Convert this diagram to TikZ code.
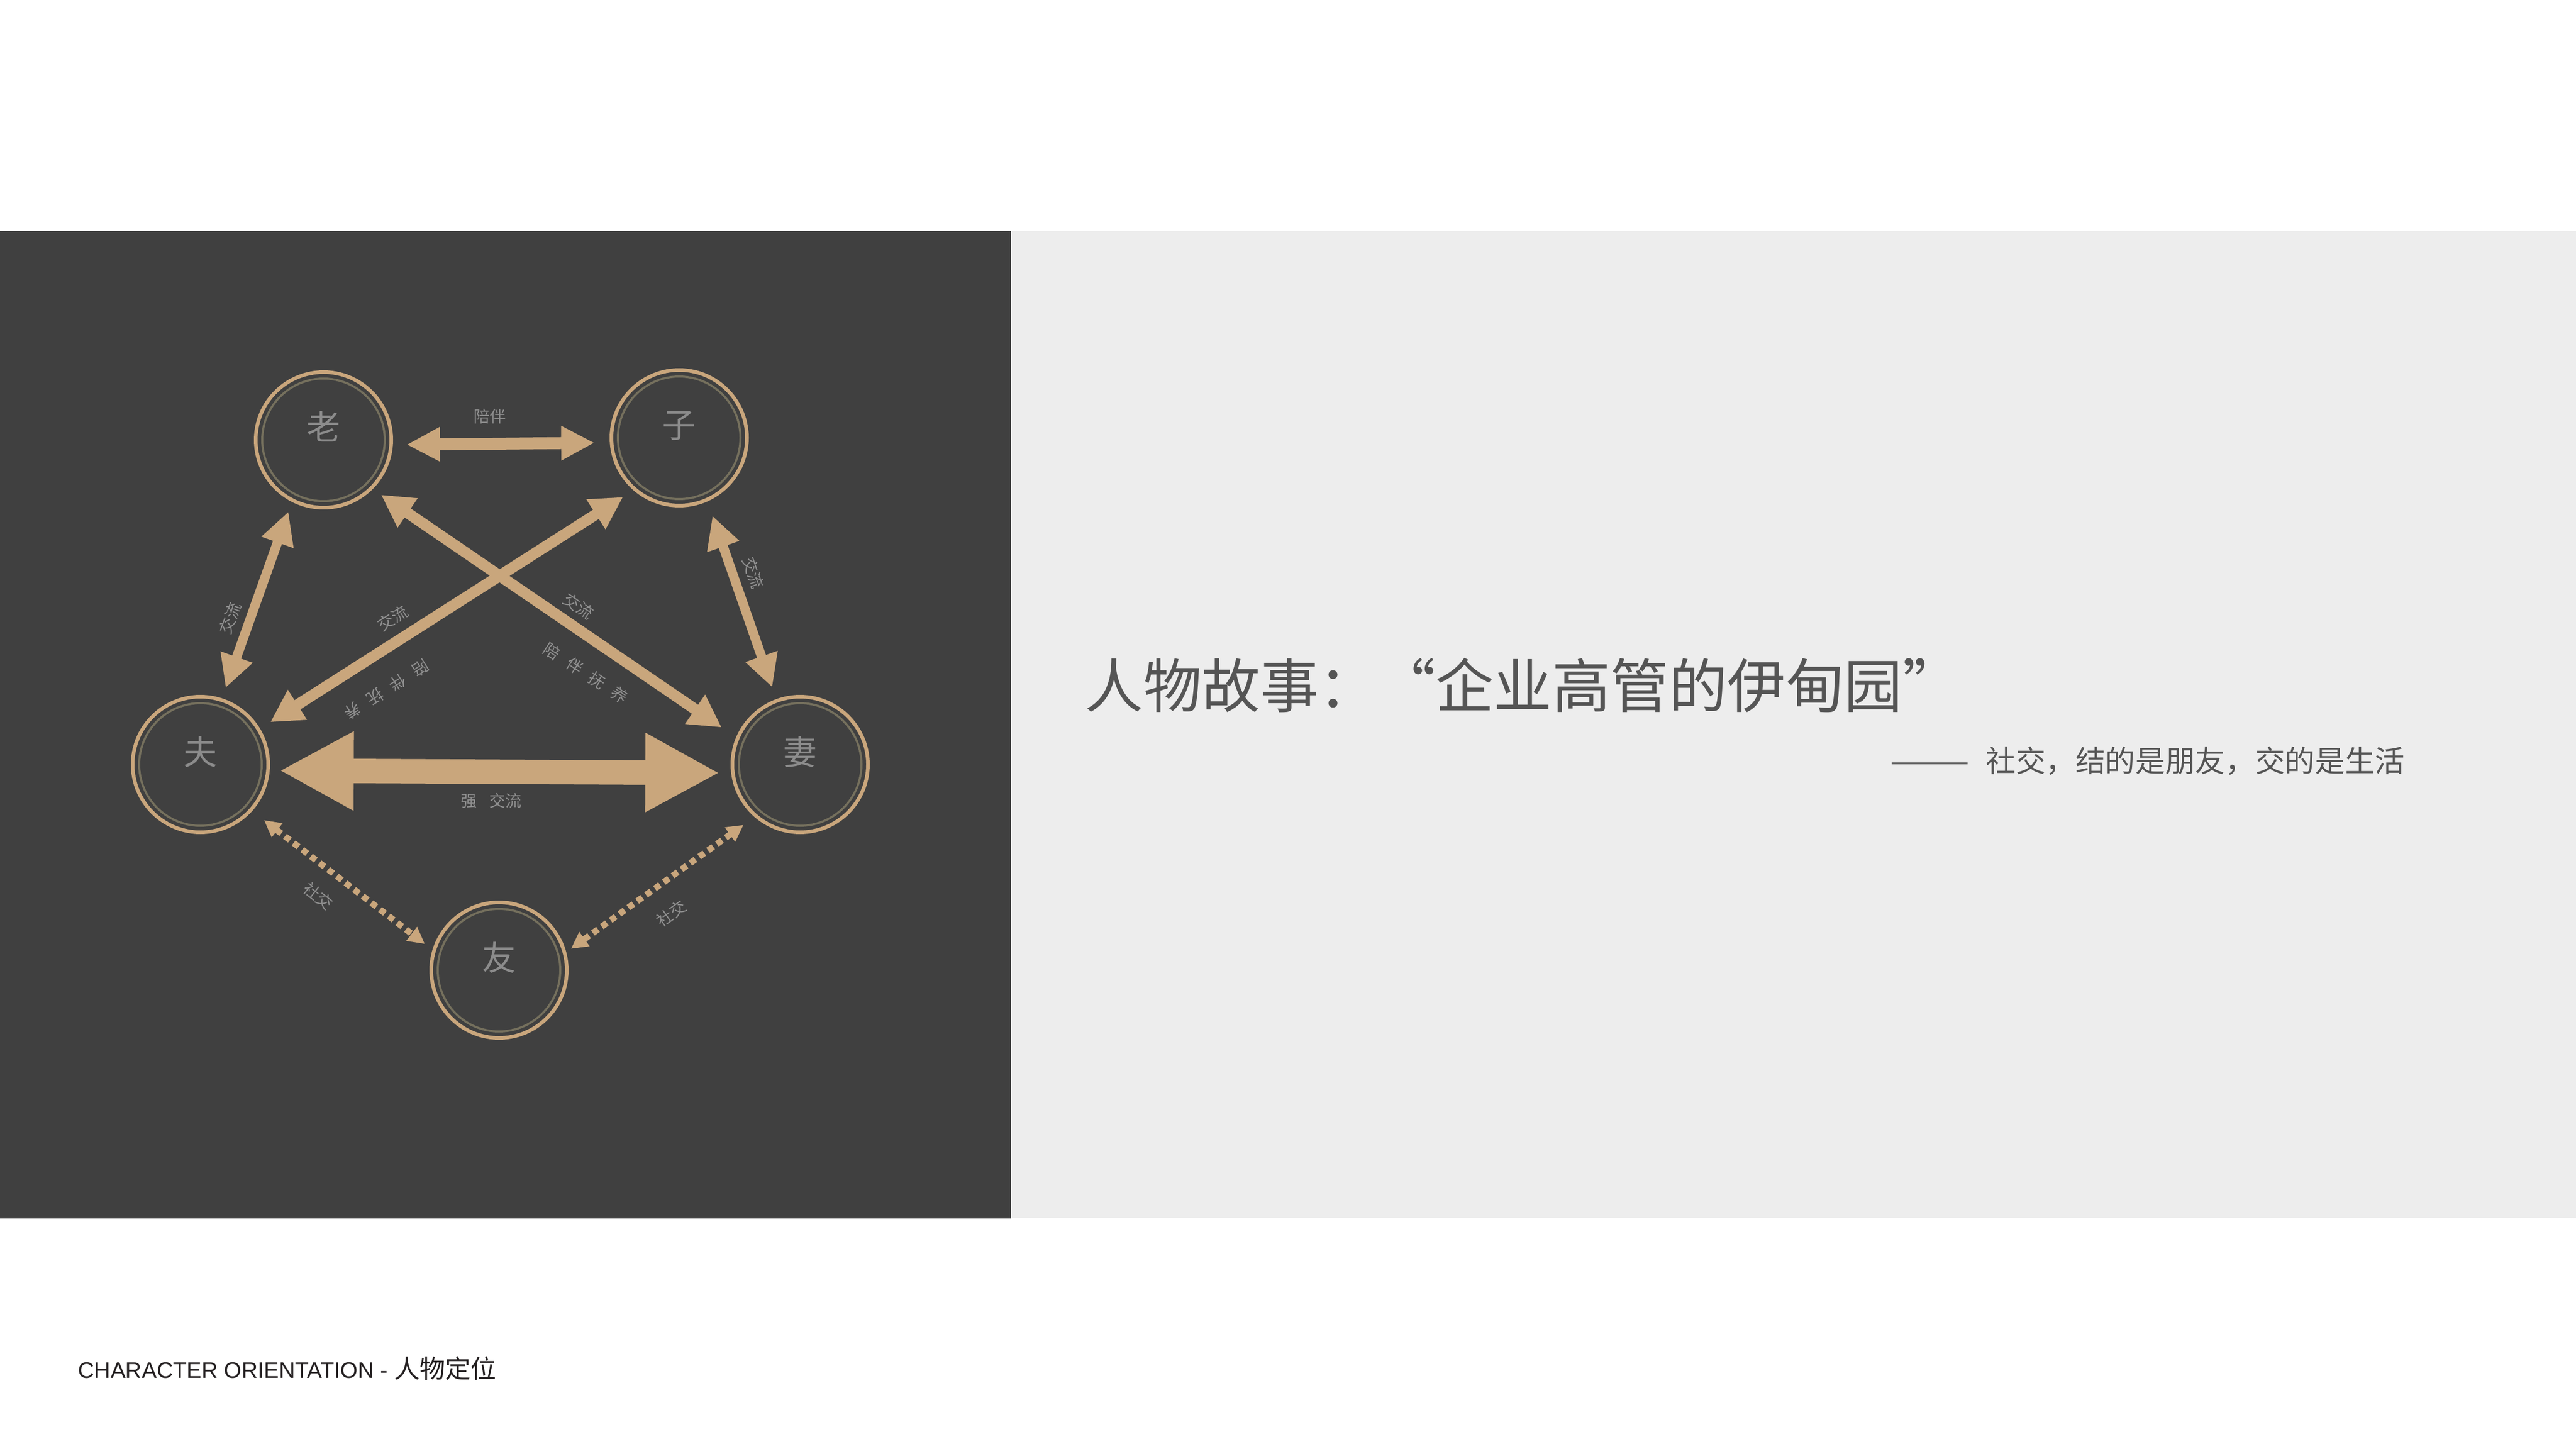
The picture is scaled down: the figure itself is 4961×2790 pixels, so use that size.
\documentclass[tikz,border=0pt]{standalone}
\usepackage{fontspec}
\setmainfont{Liberation Sans}
\newfontfamily\cjk{Noto Sans CJK SC}
\usetikzlibrary{arrows.meta}
\definecolor{panel}{HTML}{404040}
\definecolor{lightpanel}{HTML}{EDEDED}
\definecolor{tanc}{HTML}{C9A67C}
\definecolor{ringc}{HTML}{75705D}
\definecolor{glyphc}{HTML}{8C8C8C}
\definecolor{labc}{HTML}{8E8E8E}
\definecolor{titlec}{HTML}{555555}
\definecolor{footc}{HTML}{231F20}
\begin{document}
\begin{tikzpicture}[x=0.1mm,y=-0.1mm,
  person/.style={circle, draw=tanc, line width=0.7mm, minimum size=26.1mm, inner sep=0pt,
    text=glyphc, font=\cjk\fontsize{18.5}{20}\selectfont},
  innerring/.style={draw=ringc, line width=0.4mm},
  pairarrow/.style={draw=tanc, line width=2.3mm,
    {Triangle[length=6.4mm,width=6.2mm]}-{Triangle[length=6.4mm,width=6.2mm]}},
  sidearrow/.style={draw=tanc, line width=1.8mm,
    {Triangle[length=6.3mm,width=6.1mm]}-{Triangle[length=6.3mm,width=6.1mm]}},
  crossarrow/.style={draw=tanc, line width=2.1mm,
    {Triangle[length=6.2mm,width=6.4mm]}-{Triangle[length=6.2mm,width=6.4mm]}},
  bigarrow/.style={draw=tanc, line width=4.7mm,
    {Triangle[length=14.3mm,width=14.2mm]}-{Triangle[length=14.3mm,width=14.2mm]}},
  socialarrow/.style={draw=tanc, line width=1.2mm, dash pattern=on 1.2mm off 0.9mm,
    {Triangle[length=3.2mm,width=3.2mm]}-{Triangle[length=3.2mm,width=3.2mm]}},
  lab/.style={text=labc, inner sep=0pt, font=\cjk\fontsize{8.8}{10}\selectfont},
]
\fill[white] (0,0) rectangle (4961,2790);
\useasboundingbox (0,0) rectangle (4961,2790);
\fill[panel] (0,445) rectangle (1947,2346);
\fill[lightpanel] (1949,445) rectangle (4961,2345);

% people
\node[person] (lao) at (623,847) {\smash{老}};
\node[person] (zi)  at (1308,843) {\smash{子}};
\node[person] (fu)  at (386,1472) {\smash{夫}};
\node[person] (qi)  at (1541,1472) {\smash{妻}};
\node[person] (you) at (961,1868) {\smash{友}};
\foreach \n in {lao,zi,fu,qi,you}
  \draw[innerring] (\n.center) circle[radius=11.8mm];

% relations
\draw[pairarrow, shorten <=2.65mm, shorten >=2.95mm] (lao.-4.6) -- (zi.184.6);
\draw[sidearrow, shorten <=1.98mm, shorten >=2.13mm] (lao.-117.1) -- (fu.72.4);
\draw[sidearrow, shorten <=2.91mm, shorten >=2.39mm] (zi.-66.9) -- (qi.110.4);
\draw[crossarrow, shorten <=2.40mm, shorten >=2.34mm] (zi.-131.2) -- (fu.31.0);
\draw[crossarrow, shorten <=1.95mm, shorten >=3.37mm] (lao.-45.8) -- (qi.157.6);
\draw[bigarrow, shorten <=1.87mm, shorten >=2.22mm] (fu.-5.6) -- (qi.187.0);
\draw[socialarrow, shorten <=2.88mm, shorten >=1.85mm] (fu.-42.5) -- (you.163.2);
\draw[socialarrow, shorten <=2.61mm, shorten >=1.13mm] (qi.-131.5) -- (you.15.6);

% relation labels
\node[lab] (t1) at (943,802) {陪伴};
\node[lab, rotate=70] (t2) at (443,1190) {交流};
\node[lab, rotate=-71] (t3) at (1451,1103) {交流};
\node[lab, rotate=32] (t4) at (756,1190) {交流};
\node[lab, rotate=212] (t5) at (744,1328) {陪\hspace{2.06mm}伴\hspace{2.06mm}抚\hspace{2.06mm}养};
\node[lab, rotate=-34.5] (t6) at (1114,1167) {交流};
\node[lab, rotate=-33] (t7) at (1128,1296) {陪\hspace{2.06mm}伴\hspace{2.06mm}抚\hspace{2.06mm}养};
\node[lab] (t8) at (946,1542) {强\hspace{2.4mm}交流};
\node[lab, rotate=-38] (t9) at (613,1725) {社交};
\node[lab, rotate=35] (t10) at (1293,1759) {社交};

% right side texts
\node[anchor=west, inner sep=0pt, text=titlec, font=\cjk\fontsize{32}{34}\selectfont]
  (title) at (2089,1320) {人物故事：“企业高管的伊甸园”};
\node[anchor=east, inner sep=0pt, text=titlec, font=\cjk\fontsize{16.4}{18}\selectfont]
  (sub) at (4632,1465) {\scalebox{1.6}[1]{——}\hspace{3mm}社交，结的是朋友，交的是生活};

% footer
\node[anchor=base west, inner sep=0pt, text=footc, font=\fontsize{12.3}{14}\selectfont]
  (foot) at (150,2653) {CHARACTER ORIENTATION - {\cjk\fontsize{14}{15}\selectfont 人物定位}};
\end{tikzpicture}
\end{document}
